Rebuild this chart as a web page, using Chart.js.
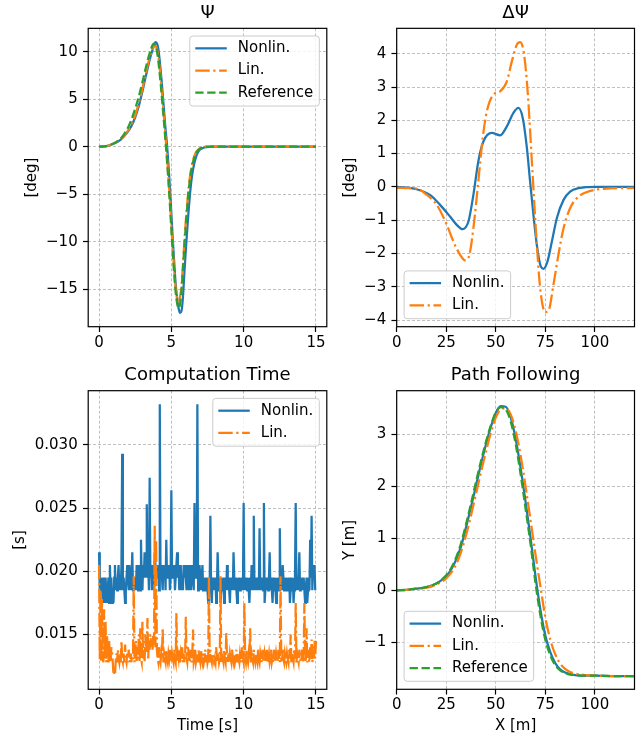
<!DOCTYPE html>
<html>
<head>
<meta charset="utf-8">
<script src="https://cdn.jsdelivr.net/npm/chart.js@4.4.1/dist/chart.umd.min.js"></script>
<style>
  html, body { margin: 0; padding: 0; background: #fff; }
  #wrap { position: relative; width: 641px; height: 738px; }
  #wrap canvas { position: absolute; left: 0; top: 0; }
</style>
</head>
<body>
<div id="wrap">
  <canvas id="psiChart" width="641" height="738"></canvas>
  <canvas id="dpsiChart" width="641" height="738"></canvas>
  <canvas id="timeChart" width="641" height="738"></canvas>
  <canvas id="pathChart" width="641" height="738"></canvas>
</div>
<script>
// ---- Psi (deg) over time (s) ----
const psiTime = [0, 0.5, 1.0, 1.5, 2.0, 2.25, 2.5, 2.75, 3.0, 3.2, 3.4, 3.6, 3.7, 3.8, 3.9,
  4.0, 4.1, 4.2, 4.3, 4.4, 4.5, 4.6, 4.7, 4.8, 4.9, 5.0, 5.1, 5.2, 5.3, 5.4, 5.5, 5.6, 5.7, 5.8, 5.9,
  6.0, 6.1, 6.2, 6.3, 6.4, 6.5, 6.7, 6.9, 7.1, 7.4, 7.8, 8.5, 10, 12, 15];
const psiNonlin = [0, 0.05, 0.3, 0.75, 1.6, 2.2, 3.1, 4.3, 5.8, 7.2, 8.5, 9.7, 10.2, 10.7, 11.0,
  10.9, 10.3, 9.0, 7.4, 5.6, 3.7, 1.8, 0.2, -1.9, -4.3, -7.0, -9.8, -12.2, -14.5, -16.0, -17.0, -17.5, -17.3, -15.9, -13.3,
  -10.9, -8.7, -6.6, -4.8, -3.4, -2.4, -1.1, -0.45, -0.2, -0.05, 0, 0, 0, 0, 0];
const psiLin = [0, 0.05, 0.35, 0.8, 1.7, 2.4, 3.3, 4.6, 6.1, 7.5, 8.8, 9.8, 10.2, 10.55, 10.6,
  10.3, 9.5, 8.2, 6.6, 4.8, 2.9, 1.0, -1.0, -3.2, -5.6, -8.2, -10.7, -13.0, -14.9, -15.9, -16.3, -15.8, -14.7, -12.5, -10.0,
  -7.8, -5.9, -4.3, -3.0, -2.1, -1.4, -0.6, -0.25, -0.1, 0, 0, 0, 0, 0, 0];
const psiRef = [0, 0.05, 0.35, 0.85, 2.0, 2.9, 4.0, 5.3, 6.8, 8.1, 9.3, 10.3, 10.7, 10.85, 10.7,
  10.1, 9.0, 7.6, 6.0, 4.2, 2.4, 0.5, -1.5, -3.7, -6.1, -8.7, -11.2, -13.5, -15.3, -16.5, -17.0, -16.6, -15.2, -12.9, -10.5,
  -8.3, -6.3, -4.6, -3.3, -2.3, -1.6, -0.7, -0.3, -0.1, 0, 0, 0, 0, 0, 0];

// ---- Delta Psi (deg) over path position (m) ----
const dpsiNonlinX = [0, 10, 16.8, 21.9, 26.9, 30.3, 33.2, 36.2, 38.7, 41.2, 43.8, 48, 52.2, 55.6, 58.9, 61.4,
  63.6, 65.7, 67.3, 69, 70.7, 72.7, 74.1, 76.1, 78.3, 80.8, 84.2, 87.5, 91.8, 101, 120];
const dpsiNonlin = [0, -0.07, -0.24, -0.54, -0.89, -1.14, -1.27, -1.04, -0.24, 0.77, 1.37, 1.62, 1.55, 1.82, 2.22, 2.37,
  2.07, 1.17, 0.17, -0.84, -1.74, -2.39, -2.46, -2.24, -1.64, -0.94, -0.39, -0.14, -0.04, 0, 0];
const dpsiLinX = [0, 10, 15.2, 20.2, 25.3, 28.6, 32, 34.5, 36.7, 38.7, 41.2, 43.4, 45.5, 48.8, 52.2, 55.6, 58.1,
  60.6, 62.3, 64.3, 66.2, 68.2, 70.4, 72.4, 74.9, 76.6, 79.1, 81.6, 84.2, 87.5, 91.8, 97.6, 104.4, 120];
const dpsiLin = [-0.03, -0.05, -0.24, -0.54, -1.14, -1.64, -2.04, -2.21, -2.04, -1.24, 0.17, 1.47, 2.27, 2.77, 2.87, 3.17, 3.77,
  4.27, 4.35, 3.97, 2.77, 0.77, -1.44, -3.04, -3.76, -3.72, -2.94, -2.04, -1.24, -0.64, -0.29, -0.12, -0.06, -0.03];

// ---- Computation time, one sample every 0.05 s (one row per second), values in 0.1 ms ----
const compTime = Array.from({ length: 301 }, (_, i) => i / 20);
const compNonlin = [
  215, 185, 195, 185, 195, 175, 195, 185, 175, 195, 185, 175, 185, 195, 175, 205, 185, 195, 175, 185,
  175, 195, 205, 185, 195, 185, 195, 205, 185, 195, 185, 205, 293, 185, 195, 185, 175, 185, 195, 205,
  195, 185, 205, 195, 185, 195, 215, 185, 195, 185, 195, 185, 205, 195, 185, 205, 195, 185, 225, 195,
  185, 205, 195, 215, 195, 205, 253, 195, 205, 185, 274, 195, 205, 185, 195, 205, 185, 215, 205, 195,
  205, 195, 205, 185, 332, 195, 205, 195, 185, 205, 195, 205, 185, 225, 195, 205, 195, 205, 185, 195,
  264, 195, 205, 195, 205, 185, 195, 205, 215, 195, 205, 185, 195, 205, 185, 195, 185, 205, 195, 205,
  195, 185, 205, 195, 185, 195, 205, 185, 195, 205, 195, 185, 254, 195, 205, 195, 332, 185, 195, 205,
  195, 185, 195, 205, 185, 195, 185, 195, 185, 195, 185, 175, 195, 185, 244, 185, 175, 195, 185, 195,
  185, 195, 175, 185, 215, 195, 185, 195, 175, 185, 195, 185, 195, 175, 185, 195, 185, 205, 185, 195,
  185, 175, 195, 185, 195, 185, 215, 195, 185, 195, 185, 175, 195, 185, 195, 185, 195, 185, 195, 185,
  254, 185, 195, 185, 195, 185, 195, 185, 175, 195, 185, 205, 185, 195, 244, 185, 195, 185, 195, 185,
  195, 185, 234, 185, 195, 185, 195, 185, 254, 175, 185, 195, 185, 195, 185, 195, 215, 185, 195, 185,
  175, 195, 185, 195, 185, 175, 195, 185, 195, 185, 234, 185, 195, 185, 205, 195, 185, 195, 185, 195,
  185, 195, 185, 195, 175, 185, 195, 185, 195, 175, 185, 195, 254, 185, 195, 185, 195, 215, 185, 195,
  185, 195, 185, 195, 185, 175, 185, 195, 175, 185, 195, 185, 225, 195, 244, 185, 205, 195, 205, 185,
  185];
const compLin = [
  205, 130, 185, 128, 178, 135, 128, 170, 131, 160, 128, 150, 135, 128, 145, 131, 128, 140, 135, 128,
  118, 120, 118, 128, 135, 128, 138, 131, 128, 135, 128, 145, 131, 128, 135, 128, 142, 131, 128, 135,
  128, 138, 131, 128, 135, 128, 128, 135, 196, 128, 135, 145, 128, 140, 131, 150, 128, 155, 131, 128,
  160, 131, 138, 128, 150, 135, 140, 163, 131, 145, 138, 150, 140, 145, 138, 150, 142, 236, 140, 225,
  138, 131, 128, 140, 131, 128, 135, 131, 155, 128, 135, 131, 128, 138, 131, 128, 135, 131, 138, 128,
  128, 135, 131, 128, 138, 131, 128, 167, 128, 135, 131, 138, 128, 135, 131, 140, 128, 135, 128, 131,
  164, 131, 128, 140, 135, 128, 131, 138, 128, 135, 154, 128, 131, 138, 128, 131, 135, 128, 138, 131,
  128, 138, 131, 128, 135, 128, 131, 138, 128, 135, 128, 131, 196, 128, 138, 131, 128, 135, 131, 128,
  131, 128, 140, 131, 128, 135, 128, 131, 196, 128, 135, 131, 128, 138, 131, 128, 152, 131, 128, 135,
  128, 135, 131, 128, 138, 131, 128, 135, 128, 131, 138, 128, 135, 131, 128, 135, 131, 128, 140, 131,
  128, 175, 131, 128, 138, 131, 128, 135, 131, 155, 128, 135, 131, 128, 138, 131, 128, 135, 131, 128,
  138, 131, 128, 135, 131, 128, 138, 131, 128, 135, 131, 128, 138, 128, 131, 135, 128, 131, 138, 128,
  131, 128, 138, 131, 128, 135, 131, 128, 138, 131, 128, 196, 131, 128, 138, 131, 128, 135, 131, 128,
  135, 131, 128, 138, 131, 150, 128, 135, 131, 128, 138, 131, 175, 128, 135, 131, 128, 138, 131, 128,
  131, 138, 128, 135, 175, 128, 131, 155, 128, 138, 131, 128, 140, 131, 146, 128, 135, 131, 145, 131,
  145];

// ---- Path following, Y (m) over X (m) ----
const pathX = [0, 5, 10, 15, 20, 22.5, 25, 27.5, 30, 32.5, 35, 37.5, 40, 42.5, 45, 47.5, 50, 52.5, 55,
  57.5, 60, 62.5, 65, 67.5, 70, 72.5, 75, 77.5, 80, 82.5, 85, 87.5, 90, 95, 100, 110, 120];
const pathNonlin = [0, 0.01, 0.03, 0.06, 0.13, 0.19, 0.27, 0.40, 0.59, 0.85, 1.21, 1.60, 2.01, 2.42, 2.80, 3.14, 3.41, 3.54, 3.53,
  3.33, 2.92, 2.36, 1.71, 1.02, 0.28, -0.37, -0.87, -1.19, -1.40, -1.52, -1.58, -1.61, -1.63, -1.64, -1.64, -1.65, -1.65];
const pathLin = [0, 0.01, 0.03, 0.05, 0.11, 0.16, 0.23, 0.34, 0.50, 0.74, 1.06, 1.44, 1.85, 2.27, 2.66, 3.03, 3.32, 3.48, 3.50,
  3.38, 3.07, 2.60, 2.00, 1.36, 0.70, 0.08, -0.52, -0.95, -1.23, -1.41, -1.51, -1.57, -1.60, -1.63, -1.64, -1.65, -1.65];
const pathRef = [0, 0.01, 0.03, 0.06, 0.13, 0.20, 0.29, 0.43, 0.63, 0.91, 1.27, 1.67, 2.08, 2.48, 2.85, 3.17, 3.42, 3.52, 3.48,
  3.25, 2.82, 2.24, 1.58, 0.90, 0.15, -0.48, -0.95, -1.25, -1.44, -1.54, -1.59, -1.62, -1.63, -1.64, -1.64, -1.65, -1.65];

// ---- tick values ----
const timeTicks = [0, 5, 10, 15];
const distTicks = [0, 25, 50, 75, 100];
const psiTicks = [-15, -10, -5, 0, 5, 10];
const dpsiTicks = [-4, -3, -2, -1, 0, 1, 2, 3, 4];
const compTicks = [0.015, 0.020, 0.025, 0.030];
const pathTicks = [-1, 0, 1, 2, 3];

const PT = 1.5; // px per point
const FS = 10 * PT; // tick / label / legend font
const LW = 1.5 * PT;
const BLUE = "#1f77b4", ORANGE = "#ff7f0e", GREEN = "#2ca02c";
const SOLID = [], DASHED = [5.55 * PT, 2.4 * PT], DASHDOT = [9.6 * PT, 2.4 * PT, 1.5 * PT, 2.4 * PT];
const XH = 45.7; // height of the x axis box

Chart.defaults.font.family = "'DejaVu Sans', sans-serif";
Chart.defaults.font.size = FS;
Chart.defaults.color = "#000";

function line(label, xs, ys, color, dash, order, smooth) {
  return {
    label,
    data: xs.map((x, i) => ({ x, y: ys[i] })),
    borderColor: color,
    backgroundColor: color,
    borderWidth: LW,
    borderDash: dash,
    pointRadius: 0,
    fill: false,
    order,
    tension: 0,
    cubicInterpolationMode: smooth ? "monotone" : "default",
  };
}

const minus = (v) => String(v).replace("-", "\u2212");

// black box round each axes, like matplotlib spines
const frame = {
  id: "frame",
  afterDatasetsDraw(chart) {
    const { ctx, chartArea: a } = chart;
    ctx.save();
    ctx.strokeStyle = "#000";
    ctx.lineWidth = 0.8 * PT;
    ctx.strokeRect(a.left, a.top, a.right - a.left, a.bottom - a.top);
    ctx.restore();
  },
};

// legend box drawn inside the axes
const mplLegend = {
  id: "mplLegend",
  afterDraw(chart, args, opts) {
    const { ctx, chartArea: a } = chart;
    const sets = chart.data.datasets;
    const rowH = 22.2;
    ctx.save();
    ctx.font = FS + "px 'DejaVu Sans', sans-serif";
    const textW = Math.max(...sets.map((d) => ctx.measureText(d.label).width));
    const w = 48 + textW + 6;
    const h = sets.length * rowH + 3.4;
    let x, y;
    if (opts.corner === "ur") {
      x = a.right - 7.5 - w;
      y = a.top + 7.7;
    } else {
      x = a.left + 7.4;
      y = a.bottom - 8 - h;
    }
    ctx.beginPath();
    ctx.roundRect(x, y, w, h, 3);
    ctx.fillStyle = "rgba(255,255,255,0.8)";
    ctx.fill();
    ctx.strokeStyle = "#cccccc";
    ctx.lineWidth = 1;
    ctx.stroke();
    sets.forEach((d, i) => {
      const cy = y + 12.3 + i * rowH;
      ctx.beginPath();
      ctx.setLineDash(d.borderDash);
      ctx.strokeStyle = d.borderColor;
      ctx.lineWidth = LW;
      ctx.moveTo(x + 5.5, cy);
      ctx.lineTo(x + 37, cy);
      ctx.stroke();
      ctx.setLineDash([]);
      ctx.fillStyle = "#000";
      ctx.textBaseline = "middle";
      ctx.textAlign = "left";
      ctx.fillText(d.label, x + 48, cy);
    });
    ctx.restore();
  },
};

function axis(min, max, ticks, fmt, title, size) {
  return {
    type: "linear",
    min,
    max,
    afterBuildTicks: (s) => { s.ticks = ticks.map((v) => ({ value: v })); },
    afterFit: (s) => { if (s.isHorizontal()) s.height = size; else s.width = size; },
    ticks: { autoSkip: false, maxRotation: 0, padding: 5.25, callback: fmt, font: { size: FS } },
    grid: { color: "#b0b0b0", lineWidth: 0.8, tickLength: 5.25, tickColor: "#000", tickWidth: 0.8 * PT, tickBorderDash: [] },
    border: { display: false, dash: [3, 2] },
    title: { display: !!title, text: title, padding: 0, font: { size: FS } },
    boxSize: size,
  };
}

// box: chart area left, right, top, bottom in page pixels
function panel(id, box, title, datasets, xAxis, yAxis, corner) {
  xAxis.ticks.padding = 2;
  new Chart(document.getElementById(id), {
    type: "line",
    data: { datasets },
    options: {
      responsive: false,
      animation: false,
      events: [],
      layout: {
        padding: {
          left: box.left - yAxis.boxSize,
          right: 641 - box.right,
          top: box.top - 28.34,
          bottom: 738 - box.bottom - XH,
        },
      },
      plugins: {
        legend: { display: false },
        tooltip: { enabled: false },
        title: {
          display: true,
          text: title,
          fullSize: false,
          color: "#000",
          font: { size: 12 * PT, weight: "normal" },
          padding: { top: 2.3, bottom: 4.44 },
        },
        mplLegend: { corner },
      },
      scales: { x: xAxis, y: yAxis },
    },
    plugins: [frame, mplLegend],
  });
}

panel("psiChart", { left: 88.2, right: 326.8, top: 28.34, bottom: 326.7 }, "\u03a8",
  [
    line("Nonlin.", psiTime, psiNonlin, BLUE, SOLID, 3, true),
    line("Lin.", psiTime, psiLin, ORANGE, DASHDOT, 2, true),
    line("Reference", psiTime, psiRef, GREEN, DASHED, 1, true),
  ],
  axis(-0.75, 15.75, timeTicks, minus, "", XH),
  axis(-18.95, 12.46, psiTicks, minus, "[deg]", 64.7),
  "ur");

panel("dpsiChart", { left: 396.7, right: 634.5, top: 28.34, bottom: 326.7 }, "\u0394\u03a8",
  [
    line("Nonlin.", dpsiNonlinX, dpsiNonlin, BLUE, SOLID, 2, true),
    line("Lin.", dpsiLinX, dpsiLin, ORANGE, DASHDOT, 1, true),
  ],
  axis(0, 120, distTicks, minus, "", XH),
  axis(-4.2, 4.763, dpsiTicks, minus, "[deg]", 56),
  "ll");

panel("timeChart", { left: 88.2, right: 326.8, top: 390.7, bottom: 689.3 }, "Computation Time",
  [
    line("Nonlin.", compTime, compNonlin.map((v) => v / 10000), BLUE, SOLID, 2, false),
    line("Lin.", compTime, compLin.map((v) => v / 10000), ORANGE, DASHDOT, 1, false),
  ],
  axis(-0.75, 15.75, timeTicks, minus, "Time [s]", XH),
  axis(0.01067, 0.03428, compTicks, (v) => v.toFixed(3), "[s]", 77.2),
  "ur");

panel("pathChart", { left: 396.7, right: 634.5, top: 390.7, bottom: 689.3 }, "Path Following",
  [
    line("Nonlin.", pathX, pathNonlin, BLUE, SOLID, 3, true),
    line("Lin.", pathX, pathLin, ORANGE, DASHDOT, 2, true),
    line("Reference", pathX, pathRef, GREEN, DASHED, 1, true),
  ],
  axis(0, 120, distTicks, minus, "X [m]", XH),
  axis(-1.904, 3.838, pathTicks, minus, "Y [m]", 55.7),
  "ll");
</script>
</body>
</html>
